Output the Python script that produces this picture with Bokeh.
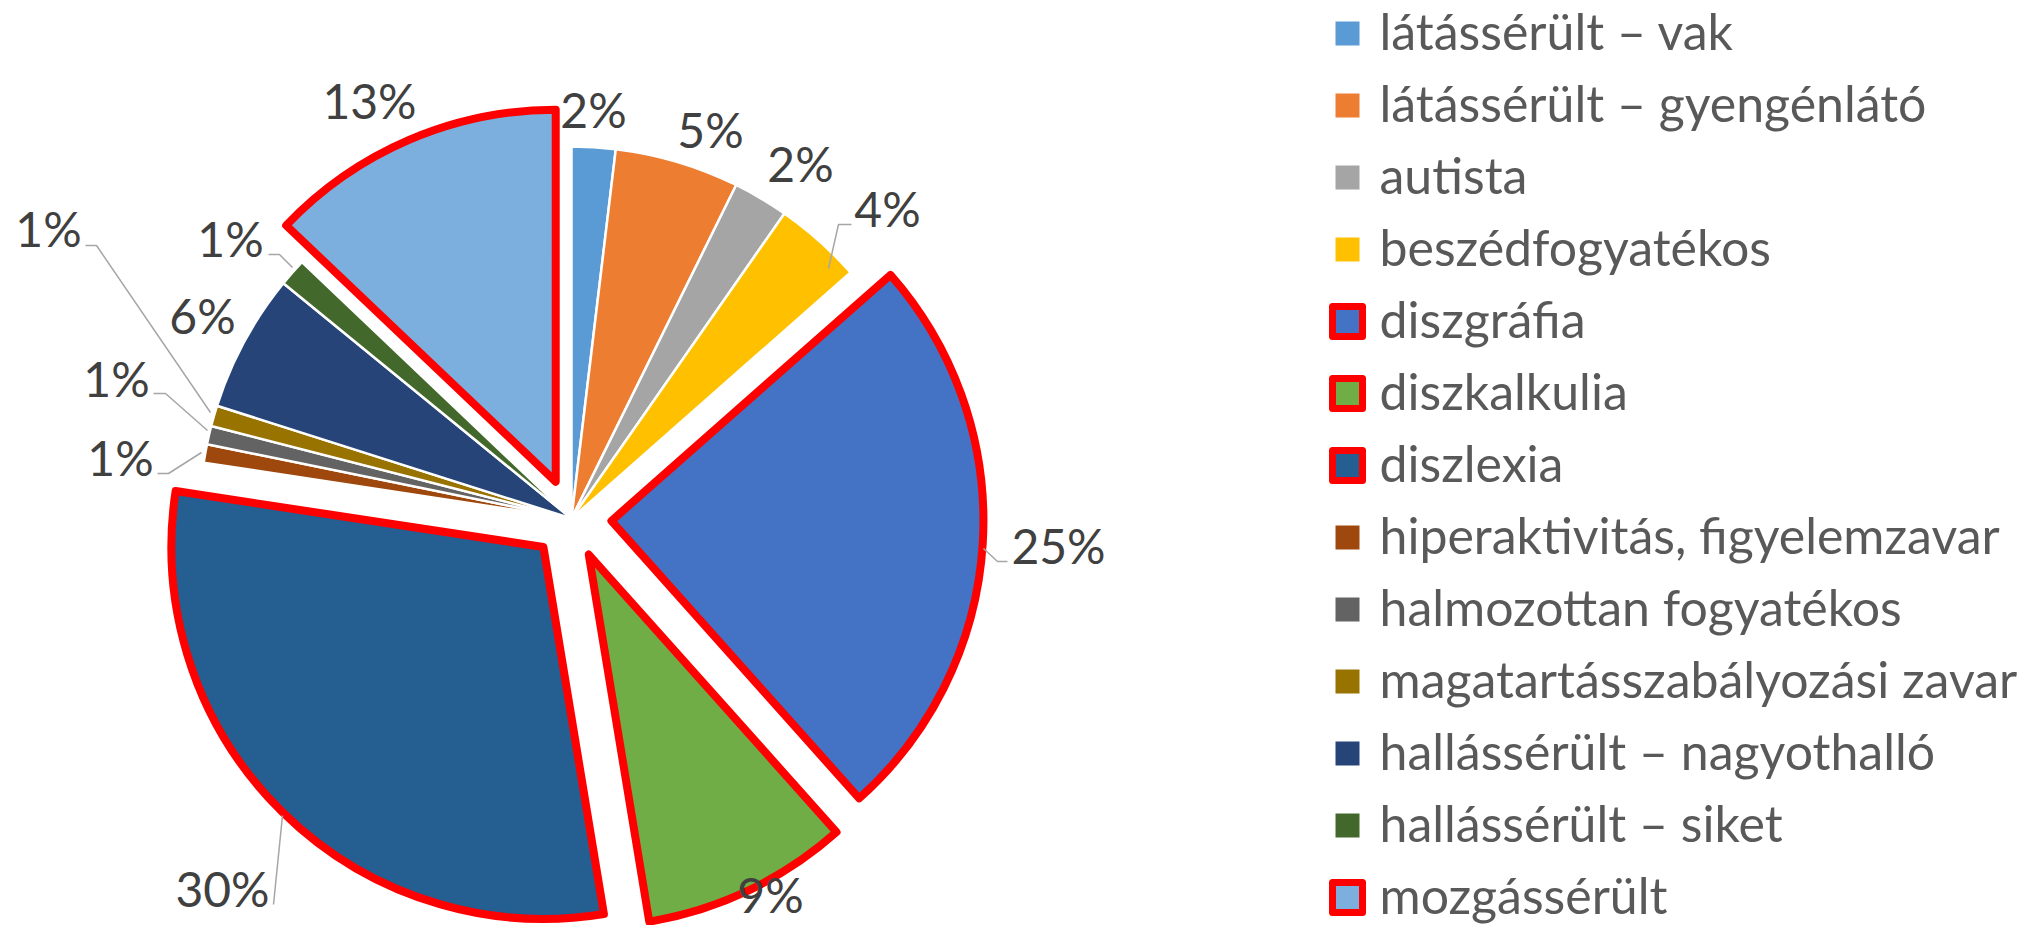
import math
from bokeh.plotting import figure
from bokeh.models import Range1d, ColumnDataSource
from bokeh.core.properties import value
from bokeh.embed import file_html
from bokeh.resources import INLINE

# ---------------- data ----------------
categories = [
    "látássérült – vak",
    "látássérült – gyengénlátó",
    "autista",
    "beszédfogyatékos",
    "diszgráfia",
    "diszkalkulia",
    "diszlexia",
    "hiperaktivitás, figyelemzavar",
    "halmozottan fogyatékos",
    "magatartásszabályozási zavar",
    "hallássérült – nagyothalló",
    "hallássérült – siket",
    "mozgássérült",
]
shares = [1.9, 5.4, 2.4, 3.8, 24.9, 9.0, 30.0, 0.8, 0.8, 0.9, 6.0, 1.2, 12.9]
highlighted = [False, False, False, False, True, True, True, False, False, False, False, False, True]
colors = ["#5B9BD5", "#ED7D31", "#A5A5A5", "#FFC000", "#4472C4", "#70AD47", "#255E91",
          "#9E480E", "#636363", "#997300", "#264478", "#43682B", "#7CAFDD"]

# ---------------- layout (reference pixel coordinates) ----------------
W, H = 2033, 925
CX, CY, R = 571, 518, 372
EXPLODE = 40
label_pos = [(593, 109), (710, 129), (800, 163), (887, 208), (1058, 545), (770, 894),
             (222, 888), (120, 457), (116, 378), (48, 228), (202, 315), (230, 238), (369, 100)]
leaders = [
    [(828, 268), (838, 224), (851, 224)],
    [(983, 548), (997, 561), (1007, 561)],
    [(282, 815), (273, 904)],
    [(201, 452), (168, 473), (157, 473)],
    [(207, 430), (165, 393), (153, 393)],
    [(210, 412), (96, 245), (85, 245)],
    [(292, 267), (279, 254), (268, 254)],
]
LEG_SQ_X, LEG_TXT_X, LEG_Y0, LEG_DY, LEG_TXT_DY = 1347, 1379, 33, 72.0, -2.5

def Y(y):
    return -y

# ---------------- geometry from data ----------------
total = sum(shares)
xs, ys, starts, ends, lcs, lws = [], [], [], [], [], []
cum = 0.0
for v, h in zip(shares, highlighted):
    t1 = cum / total * 2 * math.pi
    cum += v
    t2 = cum / total * 2 * math.pi
    tm = (t1 + t2) / 2
    d = EXPLODE if h else 0
    xs.append(CX + d * math.sin(tm))
    ys.append(Y(CY) + d * math.cos(tm))
    starts.append(math.pi / 2 - t2)
    ends.append(math.pi / 2 - t1)
    lcs.append("#FF0000" if h else "#FFFFFF")
    lws.append(8 if h else 2.5)

p = figure(width=W, height=H, x_range=Range1d(0, W), y_range=Range1d(-H, 0),
           output_backend="svg", toolbar_location=None, min_border=0,
           x_axis_location=None, y_axis_location=None)
p.grid.visible = False
p.outline_line_color = None
p.background_fill_color = "white"
p.border_fill_color = "white"

# non-highlighted first, highlighted on top
order = [i for i, h in enumerate(highlighted) if not h] + [i for i, h in enumerate(highlighted) if h]
data = dict(x=xs, y=ys, start=starts, end=ends, color=colors, lc=lcs, lw=lws)
src = ColumnDataSource({k: [data[k][i] for i in order] for k in data})
p.wedge(x="x", y="y", radius=R, start_angle="start", end_angle="end", direction="anticlock",
        fill_color="color", line_color="lc", line_width="lw", line_join="round", source=src)

# leader lines
p.multi_line(xs=[[pt[0] for pt in L] for L in leaders], ys=[[Y(pt[1]) for pt in L] for L in leaders],
             line_color="#A6A6A6", line_width=1.5)

# data labels
labels = [f"{round(v / total * 100)}%" for v in shares]
p.text(x=[q[0] for q in label_pos], y=[Y(q[1]) for q in label_pos], text=labels,
       text_font=value("Lato"), text_font_size=value("48px"), text_color="#404040",
       text_align="center", text_baseline="middle")

# legend
n = len(categories)
sq_y = [Y(LEG_Y0 + LEG_DY * i) for i in range(n)]
plain = [i for i in range(n) if not highlighted[i]]
hl = [i for i in range(n) if highlighted[i]]
p.rect(x=[LEG_SQ_X] * len(plain), y=[sq_y[i] for i in plain], width=24, height=24,
       width_units="screen", height_units="screen", fill_color=[colors[i] for i in plain], line_color=None)
p.rect(x=[LEG_SQ_X] * len(hl), y=[sq_y[i] for i in hl], width=30, height=30,
       width_units="screen", height_units="screen", fill_color=[colors[i] for i in hl],
       line_color="#FF0000", line_width=7, line_join="round")
p.text(x=[LEG_TXT_X] * n, y=[Y(LEG_Y0 + LEG_TXT_DY + LEG_DY * i) for i in range(n)], text=categories,
       text_font=value("Lato"), text_font_size=value("50px"), text_color="#595959",
       text_align="left", text_baseline="middle")

open("out.html", "w").write(file_html(p, INLINE))
